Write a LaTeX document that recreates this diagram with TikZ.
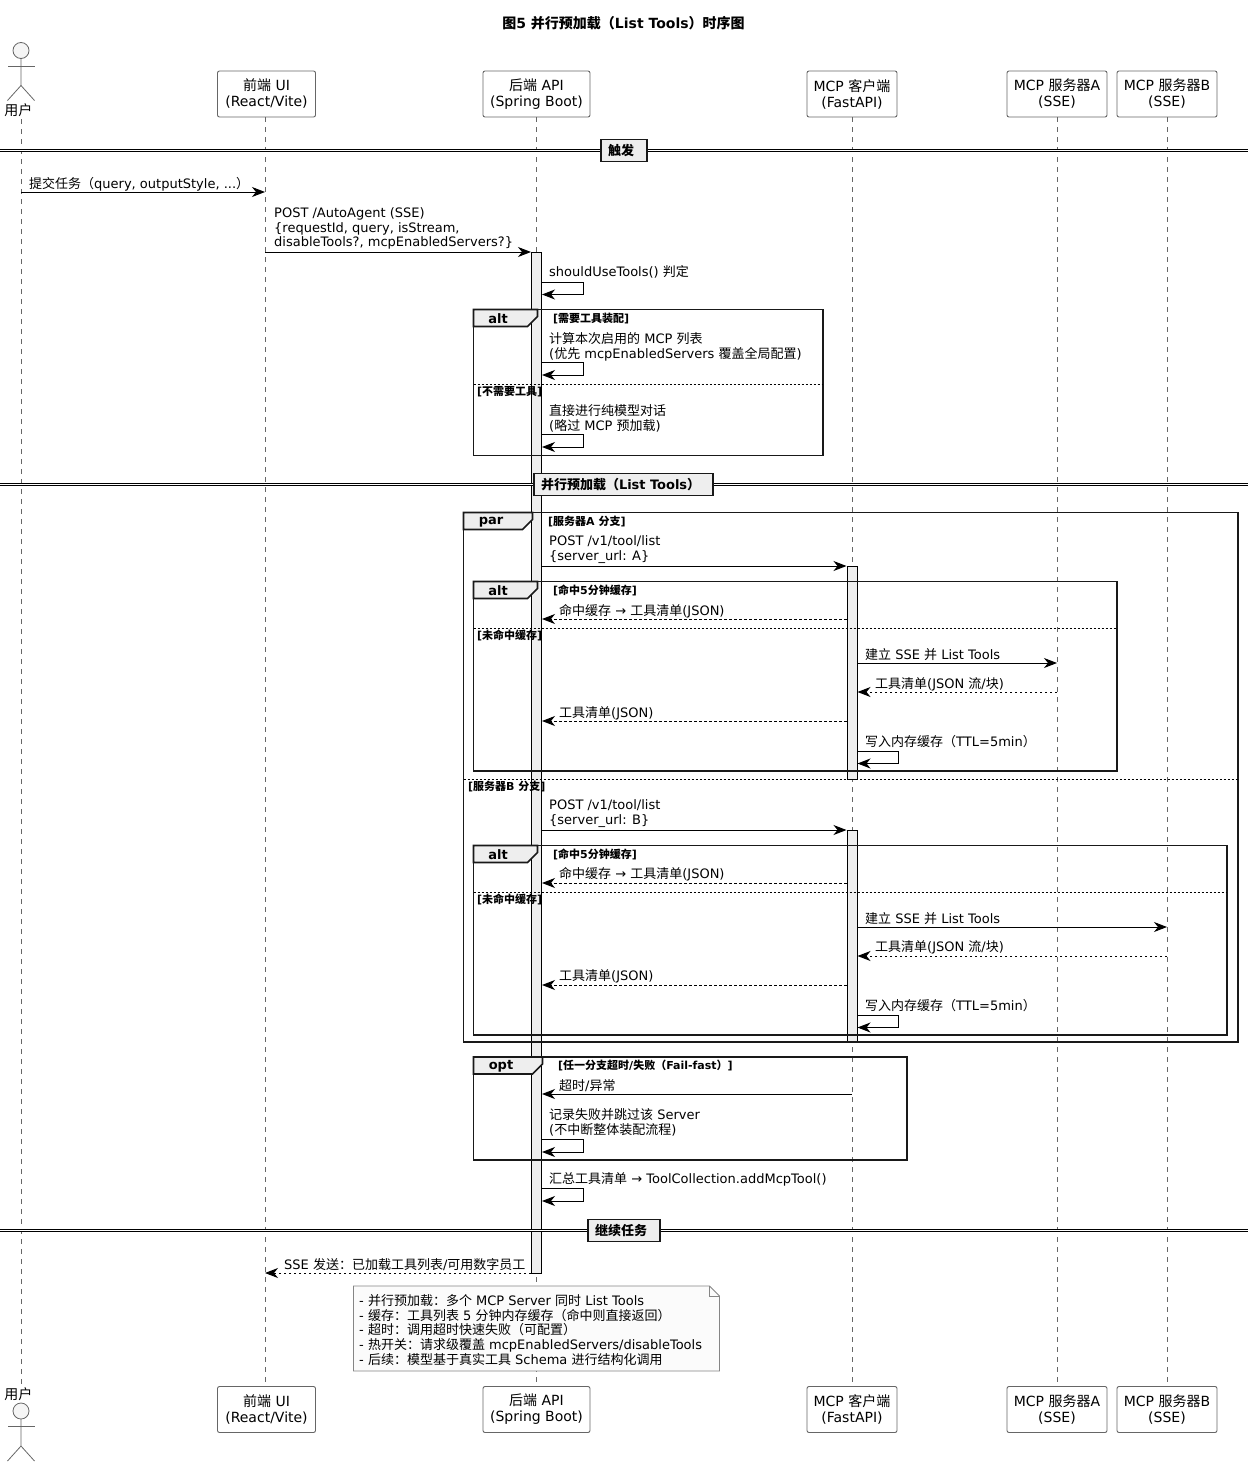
\documentclass[tikz,border=0pt]{standalone}
\usepackage{fontspec}
\setmainfont{DejaVu Sans}
\newfontfamily\cjkfont{Noto Sans CJK SC}
\usetikzlibrary{arrows.meta,positioning}
\XeTeXinterchartokenstate=1
\newXeTeXintercharclass\cjkclass
\count255="3000 \loop\XeTeXcharclass\count255=\cjkclass \ifnum\count255<"303F \advance\count255 by 1 \repeat
\count255="4E00 \loop\XeTeXcharclass\count255=\cjkclass \ifnum\count255<"9FFF \advance\count255 by 1 \repeat
\count255="FF00 \loop\XeTeXcharclass\count255=\cjkclass \ifnum\count255<"FFEF \advance\count255 by 1 \repeat
\XeTeXinterchartoks 0 \cjkclass={\begingroup\cjkfont}
\XeTeXinterchartoks 4095 \cjkclass={\begingroup\cjkfont}
\XeTeXinterchartoks \cjkclass 0={\endgroup}
\XeTeXinterchartoks \cjkclass 4095={\endgroup}
\definecolor{barfill}{HTML}{EEEEEE}
\definecolor{linec}{HTML}{666666}
\definecolor{notefill}{HTML}{FBFBFB}
\tikzset{
  >={Stealth[length=13pt,width=10pt,inset=4pt]},
  partbox/.style={draw=linec, line width=0.9pt, fill=white, rounded corners=2pt, align=center, inner sep=0pt,
              font=\fontsize{14}{16}\selectfont, minimum height=46pt},
  userlab/.style={inner sep=0pt, minimum height=18pt, font=\fontsize{14}{16}\selectfont},
  msgtext/.style={anchor=west, align=left, inner sep=0pt, yshift=-1pt, font=\fontsize{13}{14.7}\selectfont},
  guardtext/.style={anchor=west, inner sep=0pt, yshift=-0.7pt, font=\fontsize{11}{13}\selectfont\bfseries},
  framelab/.style={inner sep=0pt, yshift=-1pt, font=\fontsize{13}{15}\selectfont\bfseries},
  framebox/.style={draw=black!90, line width=1.6pt},
  tabbox/.style={draw=black!90, line width=1.6pt, fill=barfill},
  sepline/.style={black, line width=0.9pt, dash pattern=on 2pt off 2pt},
  lifeline/.style={linec, line width=0.8pt, dash pattern=on 5pt off 5pt},
  msgline/.style={black, line width=1pt},
  replyline/.style={black, line width=1pt, dash pattern=on 2.5pt off 2.5pt},
  actbar/.style={draw=black, line width=1pt, fill=barfill, minimum width=10pt, inner sep=0pt},
  divbox/.style={draw=black!90, line width=1.6pt, fill=barfill, inner xsep=7pt, inner ysep=0pt, minimum height=22pt,
              align=left, font=\fontsize{13}{15}\selectfont\bfseries},
  divline/.style={black, line width=1pt, double=white, double distance=1.3pt},
  actorline/.style={draw=linec, line width=0.8pt},
}
\begin{document}
\begin{tikzpicture}[x=1pt,y=-1pt]
\useasboundingbox (0,0) rectangle (1253,1467);

\node[inner sep=0pt, font=\fontsize{14}{16}\selectfont\bfseries] (title) at (623.5,23) {图5 并行预加载（List Tools）时序图};

% lifeline positions
\foreach \ln/\lx in {user/21, ui/265, api/536.5, client/852, srva/1057, srvb/1167}
  \coordinate (l\ln) at (\lx,0);

% heads, top and bottom row
\foreach \sfx/\cy in {/94, b/1409.5}{
  \node[partbox, minimum width=98pt] (ui\sfx) at (266.5,\cy) {前端 UI\\(React/Vite)};
  \node[partbox, minimum width=107pt] (api\sfx) at (536.5,\cy) {后端 API\\(Spring Boot)};
  \node[partbox, minimum width=90pt] (client\sfx) at (852,\cy) {MCP 客户端\\(FastAPI)};
  \node[partbox, minimum width=100pt] (srva\sfx) at (1057,\cy) {MCP 服务器A\\(SSE)};
  \node[partbox, minimum width=100pt] (srvb\sfx) at (1167,\cy) {MCP 服务器B\\(SSE)};
}
\node[userlab] (user) at (18.5,110) {用户};
\node[userlab] (userb) at (18.5,1394) {用户};

% actors
\foreach \hy in {50.5, 1411}{
  \draw[actorline, fill=black!4] (21,\hy) circle (8);
  \draw[actorline] (21,\hy+8) -- ++(0,27) -- ++(-13.5,15);
  \draw[actorline] (21,\hy+35) -- ++(13.5,15);
  \draw[actorline] (8,\hy+15.5) -- (35,\hy+15.5);
}

% lifelines
\foreach \ln in {user, ui, api, client, srva, srvb}
  \draw[lifeline] (\ln.south -| l\ln) -- (\ln b.north -| l\ln);

% activations
\node[actbar, minimum height=1021pt] (actapi) at (536.5,762.5) {};
\node[actbar, minimum height=213pt] (actca) at (852,672.5) {};
\node[actbar, minimum height=212pt] (actcb) at (852,936) {};

% frames
\foreach \fn/\fl/\ft/\fr/\fb/\tr/\lc/\lab in {
    f1/473.5/309.5/823/455.5/537.5/498/alt,
    f2/463.5/512.5/1238/1042/532.5/491/par,
    f3/473.5/581.5/1117/771/537.5/498/alt,
    f4/473.5/845.5/1227/1035/537.5/498/alt,
    f5/473.5/1057/907/1160/542.5/501/opt}{
  \draw[framebox] (\fl,\ft) rectangle (\fr,\fb);
  \draw[tabbox] (\fl,\ft) -- (\tr,\ft) -- (\tr,\ft+7) -- (\tr-10,\ft+17) -- (\fl,\ft+17) -- cycle;
  \node[framelab] (\fn lab) at (\lc,\ft+8.5) {\lab};
}
\draw[sepline] (473.5,384) -- (823,384);
\draw[sepline] (473.5,628) -- (1117,628);
\draw[sepline] (463.5,779) -- (1238,779);
\draw[sepline] (473.5,892) -- (1227,892);

\node[guardtext] (g1) at (553,318) {[需要工具装配]};
\node[guardtext] (g2) at (477,391) {[不需要工具]};
\node[guardtext] (g3) at (548,521) {[服务器A 分支]};
\node[guardtext] (g4) at (553,590) {[命中5分钟缓存]};
\node[guardtext] (g5) at (477,635) {[未命中缓存]};
\node[guardtext] (g6) at (468,786) {[服务器B 分支]};
\node[guardtext] (g7) at (553,854) {[命中5分钟缓存]};
\node[guardtext] (g8) at (477,899) {[未命中缓存]};
\node[guardtext] (g9) at (558,1065) {[任一分支超时/失败（Fail-fast）]};

% dividers
\foreach \dy/\cx/\dw/\dt in {150.5/624/32/触发, 484.5/623.5/165/并行预加载（List Tools）, 1230.5/624/58/继续任务}{
  \draw[divline] (0,\dy) -- (1248,\dy);
  \node[divbox, text width=\dw pt] at (\cx,\dy) {\dt};
}

% message rows
\foreach \n/\y in {m1/192, m2/252, s1/282, s2/362, s3/434, m3/566, r1/619, m4/663, r2/692, r3/721, s4/751,
    m5/830, r4/883, m6/927, r5/956, r6/985, s5/1015, m7/1094, s6/1139, s7/1188, r7/1273}
  \coordinate (\n) at (0,\y);

\node[msgtext] (t1) at (29,183) {提交任务（query, outputStyle, ...）};
\draw[msgline,->] (luser |- m1) -- (lui |- m1);
\node[msgtext] (t2) at (274,227.5) {POST /AutoAgent (SSE)\\\{requestId, query, isStream,\\disableTools?, mcpEnabledServers?\}};
\draw[msgline,->] (lui |- m2) -- (actapi.west |- m2);
\node[msgtext] (t3) at (549,271) {shouldUseTools() 判定};
\draw[msgline,->] (actapi.east |- s1) -- ++(41,0) -- ++(0,12.5) -- ++(-41,0);
\node[msgtext] (t4) at (549,346) {计算本次启用的 MCP 列表\\(优先 mcpEnabledServers 覆盖全局配置)};
\draw[msgline,->] (actapi.east |- s2) -- ++(41,0) -- ++(0,13) -- ++(-41,0);
\node[msgtext] (t5) at (549,417.5) {直接进行纯模型对话\\(略过 MCP 预加载)};
\draw[msgline,->] (actapi.east |- s3) -- ++(41,0) -- ++(0,13) -- ++(-41,0);

\node[msgtext] (t6) at (549,548.5) {POST /v1/tool/list\\\{server\_url: A\}};
\draw[msgline,->] (actapi.east |- m3) -- (actca.west |- m3);
\node[msgtext] (t7) at (559,610) {命中缓存 → 工具清单(JSON)};
\draw[replyline,->] (actca.west |- r1) -- (actapi.east |- r1);
\node[msgtext] (t8) at (865,654) {建立 SSE 并 List Tools};
\draw[msgline,->] (actca.east |- m4) -- (lsrva |- m4);
\node[msgtext] (t9) at (875,683) {工具清单(JSON 流/块)};
\draw[replyline,->] (lsrva |- r2) -- (actca.east |- r2);
\node[msgtext] (t10) at (559,712) {工具清单(JSON)};
\draw[replyline,->] (actca.west |- r3) -- (actapi.east |- r3);
\node[msgtext] (t11) at (865,741) {写入内存缓存（TTL=5min）};
\draw[msgline,->] (actca.east |- s4) -- ++(41,0) -- ++(0,12.5) -- ++(-41,0);

\node[msgtext] (t12) at (549,812.5) {POST /v1/tool/list\\\{server\_url: B\}};
\draw[msgline,->] (actapi.east |- m5) -- (actcb.west |- m5);
\node[msgtext] (t13) at (559,873.5) {命中缓存 → 工具清单(JSON)};
\draw[replyline,->] (actcb.west |- r4) -- (actapi.east |- r4);
\node[msgtext] (t14) at (865,917.5) {建立 SSE 并 List Tools};
\draw[msgline,->] (actcb.east |- m6) -- (lsrvb |- m6);
\node[msgtext] (t15) at (875,946.5) {工具清单(JSON 流/块)};
\draw[replyline,->] (lsrvb |- r5) -- (actcb.east |- r5);
\node[msgtext] (t16) at (559,975.5) {工具清单(JSON)};
\draw[replyline,->] (actcb.west |- r6) -- (actapi.east |- r6);
\node[msgtext] (t17) at (865,1005) {写入内存缓存（TTL=5min）};
\draw[msgline,->] (actcb.east |- s5) -- ++(41,0) -- ++(0,12.5) -- ++(-41,0);

\node[msgtext] (t18) at (559,1085) {超时/异常};
\draw[msgline,->] (lclient |- m7) -- (actapi.east |- m7);
\node[msgtext] (t19) at (549,1121.5) {记录失败并跳过该 Server\\(不中断整体装配流程)};
\draw[msgline,->] (actapi.east |- s6) -- ++(41,0) -- ++(0,13) -- ++(-41,0);
\node[msgtext] (t20) at (549,1178) {汇总工具清单 → ToolCollection.addMcpTool()};
\draw[msgline,->] (actapi.east |- s7) -- ++(41,0) -- ++(0,13) -- ++(-41,0);
\node[msgtext] (t21) at (284,1264) {SSE 发送：已加载工具列表/可用数字员工};
\draw[replyline,->] (actapi.west |- r7) -- (lui |- r7);

% note
\draw[draw=linec!80, line width=0.8pt, fill=notefill] (353.5,1286) -- (709.5,1286) -- (719.5,1296) -- (719.5,1371) -- (353.5,1371) -- cycle;
\draw[draw=linec!80, line width=0.8pt] (709.5,1286) -- (709.5,1296) -- (719.5,1296);
\node[msgtext] (note) at (359,1329) {- 并行预加载：多个 MCP Server 同时 List Tools\\- 缓存：工具列表 5 分钟内存缓存（命中则直接返回）\\- 超时：调用超时快速失败（可配置）\\- 热开关：请求级覆盖 mcpEnabledServers/disableTools\\- 后续：模型基于真实工具 Schema 进行结构化调用};
\end{tikzpicture}
\end{document}
